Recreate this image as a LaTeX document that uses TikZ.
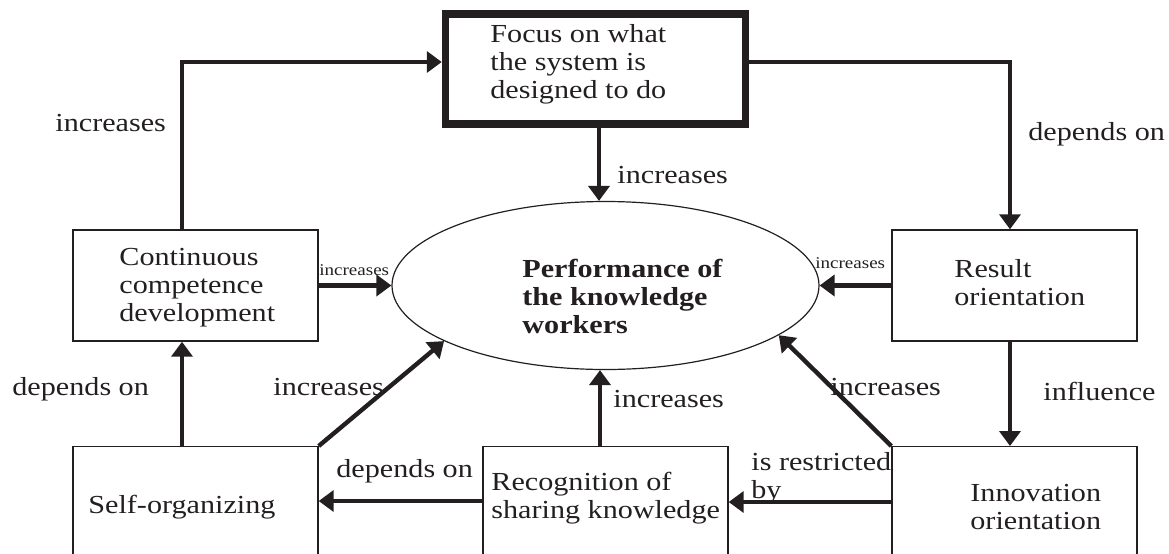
\documentclass[tikz,border=0pt]{standalone}
\usepackage{fontspec}
\setmainfont{Liberation Serif}[FakeStretch=1.16]
\usetikzlibrary{arrows.meta,shapes.geometric}
\definecolor{ink}{RGB}{35,31,32}
\tikzset{
  box/.style={draw=ink, line width=0.7pt, minimum width=122.5pt, minimum height=55.5pt, inner sep=0pt},
  tallbox/.style={box, minimum height=100pt},
  txt/.style={anchor=base west, inner sep=0pt, align=left, text=ink, font=\fontsize{13}{14}\selectfont},
  small/.style={anchor=base west, inner sep=0pt, text=ink, font=\fontsize{8.2}{9}\selectfont},
  arr/.style={draw=ink, line width=2.2pt, -{Triangle[length=7.5pt,width=10.5pt]}},
}
\begin{document}
\begin{tikzpicture}[x=0.5pt,y=-0.5pt]
\useasboundingbox (0,0) rectangle (1169,553);
\clip (0,0) rectangle (1169,553);
% boxes
\node[box, line width=3.75pt, minimum width=150pt, minimum height=55pt] (focus) at (595.5,69) {};
\node[box] (cont) at (195.5,285.5) {};
\node[box] (result) at (1014.5,285.5) {};
\node[tallbox, anchor=north] (selforg) at (195.5,446) {};
\node[tallbox, anchor=north] (recog) at (605.5,446) {};
\node[tallbox, anchor=north] (innov) at (1014.5,446) {};
\node[ellipse, draw=ink, line width=0.6pt, minimum width=213.5pt, minimum height=84pt, inner sep=0pt] (perf) at (605.5,285.5) {};
% box texts (anchor = baseline of the last line)
\node[txt] (tfocus) at (490,98) {Focus on what\\the system is\\designed to do};
\node[txt] (tcont) at (119,321) {Continuous\\competence\\development};
\node[txt] (tresult) at (954,305) {Result\\orientation};
\node[txt] (tself) at (88,513) {Self-organizing};
\node[txt] (trecog) at (491,518) {Recognition of\\sharing knowledge};
\node[txt] (tinnov) at (970,529) {Innovation\\orientation};
\node[txt, font=\fontsize{13}{14}\selectfont\bfseries] (tperf) at (522,333) {Performance of\\the knowledge\\workers};
% connectors
\draw[arr] (cont.north -| 182,0) |- (focus.west |- 0,62);
\draw[arr] (focus.east |- 0,62) -| (result.north -| 1010,0);
\draw[arr] (focus.south -| 599,0) -- (perf.north -| 599,0);
\draw[arr] (cont.east) -- (perf.west);
\draw[arr] (result.west) -- (perf.east);
\draw[arr] (selforg.north -| 182,0) -- (cont.south -| 182,0);
\draw[arr] (selforg.north east) -- (perf.199);
\draw[arr] (recog.north -| 600,0) -- (perf.south -| 600,0);
\draw[arr] (innov.north west) -- (perf.344);
\draw[arr] (result.south -| 1010,0) -- (innov.north -| 1010,0);
\draw[arr] (innov.west |- 0,502) -- (recog.east |- 0,502);
\draw[arr] (recog.west |- 0,501) -- (selforg.east |- 0,501);
% connector labels
\node[txt] (l1) at (55,131) {increases};
\node[txt] (l2) at (1028,140) {depends on};
\node[txt] (l3) at (617,183) {increases};
\node[small] (l4) at (319,275) {increases};
\node[small] (l5) at (815,268) {increases};
\node[txt] (l6) at (12,395) {depends on};
\node[txt] (l7) at (273,395) {increases};
\node[txt] (l8) at (613,407) {increases};
\node[txt] (l9) at (830,395) {increases};
\node[txt] (l10) at (1043,400) {influence};
\node[txt] (l11) at (336,477) {depends on};
\node[txt] (l12) at (751,498) {is restricted\\by};
\end{tikzpicture}
\end{document}
